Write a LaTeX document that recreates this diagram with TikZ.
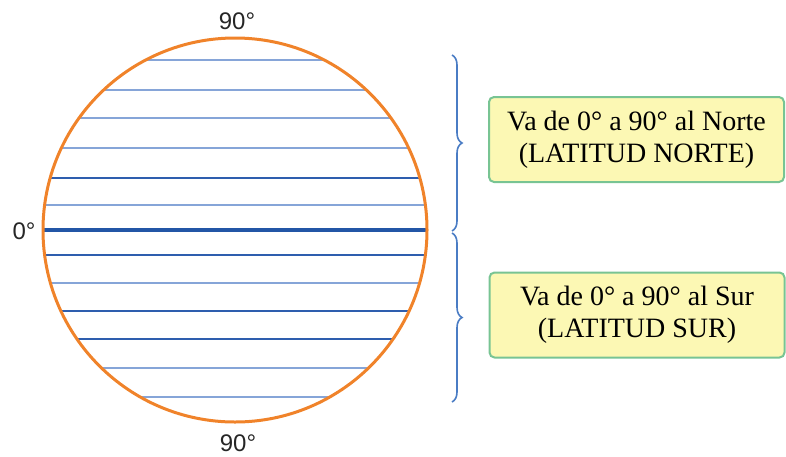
\documentclass[tikz,border=0pt]{standalone}
\usepackage{fontspec}
\setmainfont{Liberation Serif}
\newfontfamily\labelfont{Liberation Sans}
\usetikzlibrary{decorations.pathreplacing}
\definecolor{orb}{HTML}{F0832A}
\definecolor{lightline}{HTML}{86A5D8}
\definecolor{darkline}{HTML}{2E5EAE}
\definecolor{eqline}{HTML}{2356A6}
\definecolor{bracecol}{HTML}{4A7CC4}
\definecolor{boxfill}{HTML}{FCF8B4}
\definecolor{boxedge}{HTML}{78C493}
\tikzset{
  deglabel/.style={font=\labelfont\fontsize{24}{24}\selectfont, text=black!85, inner sep=0pt, anchor=base},
  infobox/.style={draw=boxedge, line width=2pt, fill=boxfill, rounded corners=5pt,
    minimum width=295pt, minimum height=85pt, align=center, inner sep=2pt,
    font=\fontsize{28}{32}\selectfont},
  bracestyle/.style={draw=bracecol, line width=1.6pt,
    decorate, decoration={brace, amplitude=10pt}},
  parallel/.style={line width=2pt}
}
\begin{document}
\begin{tikzpicture}[x=1pt,y=-1pt]
\useasboundingbox (0,0) rectangle (786,456);
% parallels
\begin{scope}
  \clip (235,230) circle (192);
  \foreach \d/\c in {-170/lightline,-140/lightline,-112/lightline,-82/lightline,-52/darkline,-25/lightline,
                     25/darkline,53/lightline,81/darkline,109/darkline,138/lightline,167/lightline}
    \draw[parallel, draw=\c] (30,230+\d) -- (440,230+\d);
  \draw[line width=4pt, draw=eqline] (30,229.5) -- (440,229.5);
\end{scope}
% globe
\node[circle, draw=orb, line width=3pt, minimum size=384pt, inner sep=0pt] (globe) at (235,230) {};
% labels
\node[deglabel] (topdeg) at (237,29) {90°};
\node[deglabel] (leftdeg) at (24,239) {0°};
\node[deglabel] (botdeg) at (238,451) {90°};
% braces
\coordinate (b1s) at (452,55);
\coordinate (b1e) at (452,231);
\coordinate (b2s) at (452,233);
\coordinate (b2e) at (452,402);
\draw[bracestyle] (b1s) -- (b1e);
\draw[bracestyle] (b2s) -- (b2e);
% boxes
\node[infobox] (north) at (636.5,139.5) {Va de 0° a 90° al Norte\\(LATITUD NORTE)};
\node[infobox] (south) at (637,315) {Va de 0° a 90° al Sur\\(LATITUD SUR)};
\end{tikzpicture}
\end{document}
